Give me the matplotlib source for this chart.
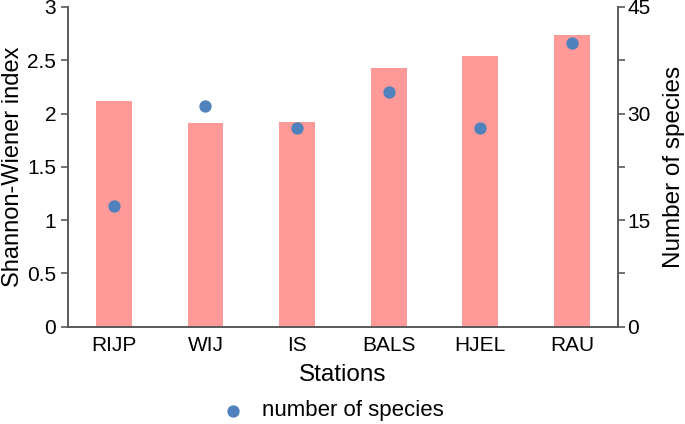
import matplotlib.pyplot as plt
import numpy as np

plt.rcParams["font.family"] = ["Liberation Sans", "DejaVu Sans"]

stations = ["RIJP", "WIJ", "IS", "BALS", "HJEL", "RAU"]
shannon = [2.12, 1.91, 1.92, 2.43, 2.54, 2.74]
n_species = [17, 31, 28, 33, 28, 40]

bar_color = "#ff9a98"
dot_color = "#4f81bd"
spine_color = "#595959"

fig = plt.figure(figsize=(6.85, 4.24), dpi=100)
ax = fig.add_axes([0.0993, 0.2295, 0.8025, 0.7540])
ax2 = ax.twinx()

x = np.arange(len(stations))
ax.bar(x, shannon, width=0.39, color=bar_color, zorder=1)
ax2.scatter(x, n_species, s=62, color=dot_color, zorder=3, label="number of species")

ax.set_xlim(-0.5, len(stations) - 0.5)
ax.set_ylim(0, 3)
ax2.set_ylim(0, 45)

ax.set_yticks(np.arange(0, 3.01, 0.5))
ax.set_yticklabels(["0", "0.5", "1", "1.5", "2", "2.5", "3"])
ax2.set_yticks(np.arange(0, 45.1, 7.5))
ax2.set_yticklabels(["0", "", "15", "", "30", "", "45"])
ax.set_xticks(x)
ax.set_xticklabels(stations)

for a in (ax, ax2):
    a.spines["top"].set_visible(False)
    for s in ("left", "right", "bottom"):
        a.spines[s].set_color(spine_color)
        a.spines[s].set_linewidth(1.2)
    a.tick_params(axis="both", direction="out", length=5, width=1.2,
                  color=spine_color, labelsize=15, labelcolor="black")
ax.tick_params(axis="x", length=0, pad=7)
ax2.tick_params(axis="y", pad=2)

ax.set_xlabel("Stations", fontsize=17.5, labelpad=6)
ax.set_ylabel("Shannon-Wiener index", fontsize=17, labelpad=2)
ax2.set_ylabel("Number of species", fontsize=17.5, labelpad=9)

fig.legend(loc="center", bbox_to_anchor=(0.478, 0.031), frameon=False,
           fontsize=16, handletextpad=0.3, markerscale=1.0)

fig.savefig("out.png", dpi=100)
